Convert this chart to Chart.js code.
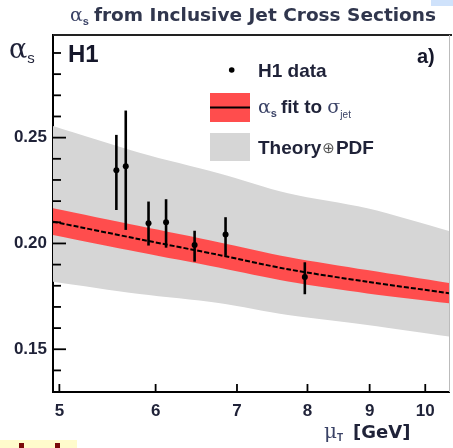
<!DOCTYPE html>
<html>
<head>
<meta charset="utf-8">
<script src="https://cdn.jsdelivr.net/npm/chart.js@4.4.1/dist/chart.umd.min.js"></script>
<style>
  html, body { margin: 0; padding: 0; background: #fff; }
</style>
</head>
<body>
<canvas id="grafico" width="453" height="448"></canvas>
<script>
// puntos H1 (mu_T en GeV, alpha_s con errores)
const muDatos = [5.57, 5.67, 5.92, 6.12, 6.46, 6.85, 7.96]
const alphaDatos = [0.2346, 0.2365, 0.2095, 0.2100, 0.1993, 0.2042, 0.1842]
const alphaArriba = [0.2513, 0.2628, 0.2198, 0.2209, 0.2060, 0.2124, 0.1911]
const alphaAbajo = [0.2158, 0.2064, 0.1990, 0.1980, 0.1914, 0.1942, 0.1760]

// ajuste de alpha_s y bandas
const muBanda = [4.94, 5.82, 6.76, 7.71, 8.96, 10.46]
const ajusteCentro = [0.2103, 0.2020, 0.1946, 0.1878, 0.1819, 0.1765]
const ajusteArriba = [0.2166, 0.2082, 0.2006, 0.1936, 0.1874, 0.1813]
const ajusteAbajo = [0.2040, 0.1958, 0.1886, 0.1820, 0.1764, 0.1717]
const teoriaArriba = [0.2555, 0.2429, 0.2332, 0.2237, 0.2166, 0.2059]
const teoriaAbajo = [0.1819, 0.1761, 0.1719, 0.1662, 0.1615, 0.1560]

// ticks
const ticksX = [5, 6, 7, 8, 9, 10]
const ticksY = [0.14, 0.15, 0.16, 0.17, 0.18, 0.19, 0.20, 0.21, 0.22, 0.23, 0.24, 0.25, 0.26, 0.27, 0.28, 0.29]
const ticksYMayores = [0.15, 0.20, 0.25]

const colorTexto = "#1f2238"
const fuente = "'Liberation Sans', Arial, 'DejaVu Sans', sans-serif"
const fuenteAncha = "'DejaVu Sans', 'Liberation Sans', sans-serif"

const aPuntos = (xs, ys) => xs.map((m, i) => ({ x: m, y: ys[i] }))
const esMayor = (v) => ticksYMayores.some((m) => Math.abs(m - v) < 1e-6)

// dibuja trozos de texto seguidos (para subindices)
const escribir = (ctx, trozos, x, y) => {
    let px = x
    trozos.forEach((t) => {
        ctx.font = t.f
        ctx.fillStyle = t.c || colorTexto
        ctx.fillText(t.t, px, y + (t.dy || 0))
        px += ctx.measureText(t.t).width + (t.sp || 0)
    })
}

const barrasError = {
    id: "barrasError",
    afterDatasetsDraw(chart) {
        const ctx = chart.ctx
        const sx = chart.scales.x
        const sy = chart.scales.y
        ctx.save()
        ctx.strokeStyle = "#000"
        ctx.lineWidth = 2.6
        muDatos.forEach((m, i) => {
            const px = sx.getPixelForValue(m)
            ctx.beginPath()
            ctx.moveTo(px, sy.getPixelForValue(alphaArriba[i]))
            ctx.lineTo(px, sy.getPixelForValue(alphaAbajo[i]))
            ctx.stroke()
        })
        ctx.restore()
    }
}

const decoracion = {
    id: "decoracion",
    afterDraw(chart) {
        const ctx = chart.ctx
        const area = chart.chartArea
        const sx = chart.scales.x
        const sy = chart.scales.y
        ctx.save()

        // marco arriba y derecha
        ctx.strokeStyle = "#222"
        ctx.lineWidth = 2
        ctx.beginPath()
        ctx.moveTo(area.left, area.top)
        ctx.lineTo(area.right + 3, area.top)
        ctx.stroke()
        ctx.strokeStyle = "#bbb"
        ctx.lineWidth = 1
        ctx.beginPath()
        ctx.moveTo(area.right + 0.5, area.top)
        ctx.lineTo(area.right + 0.5, area.bottom)
        ctx.stroke()

        // ticks hacia dentro
        ctx.strokeStyle = "#000"
        ctx.lineWidth = 1.8
        sy.ticks.forEach((t) => {
            const py = sy.getPixelForValue(t.value)
            ctx.beginPath()
            ctx.moveTo(area.left, py)
            ctx.lineTo(area.left + (esMayor(t.value) ? 13 : 8), py)
            ctx.stroke()
        })
        sx.ticks.forEach((t) => {
            const px = sx.getPixelForValue(t.value)
            ctx.beginPath()
            ctx.moveTo(px, area.bottom)
            ctx.lineTo(px, area.bottom - 8)
            ctx.stroke()
        })

        ctx.textBaseline = "alphabetic"
        ctx.textAlign = "left"

        // titulo
        escribir(ctx, [
            { t: "\u03b1", f: "19px 'DejaVu Serif', serif", c: "#3a4266" },
            { t: "s", f: "bold 11px " + fuente, dy: 4, c: "#3a4266", sp: 5 },
            { t: "from Inclusive Jet Cross Sections", f: "bold 18.5px " + fuenteAncha, c: "#30364d" }
        ], 70, 21)

        // etiqueta eje y
        escribir(ctx, [
            { t: "\u03b1", f: "27px 'DejaVu Serif', serif" },
            { t: "s", f: "15px " + fuente, dy: 5 }
        ], 9, 58)

        // H1 y a)
        escribir(ctx, [{ t: "H1", f: "bold 24px " + fuente, c: "#15172a" }], 68, 62)
        escribir(ctx, [{ t: "a)", f: "bold 20px " + fuente, c: "#15172a" }], 417, 63)

        // leyenda
        ctx.fillStyle = "#000"
        ctx.beginPath()
        ctx.arc(231.7, 70, 2.8, 0, Math.PI * 2)
        ctx.fill()
        escribir(ctx, [{ t: "H1 data", f: "bold 19px " + fuente }], 258, 77)

        ctx.fillStyle = "#ff4d4d"
        ctx.fillRect(210, 93, 40, 29)
        ctx.strokeStyle = "#000"
        ctx.lineWidth = 2
        ctx.beginPath()
        ctx.moveTo(210, 107.5)
        ctx.lineTo(250, 107.5)
        ctx.stroke()
        escribir(ctx, [
            { t: "\u03b1", f: "19px 'DejaVu Serif', serif", c: "#3a4266" },
            { t: "s", f: "bold 11px " + fuente, dy: 4, c: "#3a4266", sp: 4 },
            { t: "fit to ", f: "bold 19px " + fuente },
            { t: "\u03c3", f: "19px 'DejaVu Serif', serif", c: "#3a4266" },
            { t: "jet", f: "10px " + fuente, dy: 5, c: "#3a4266" }
        ], 258, 113)

        ctx.fillStyle = "#d6d6d6"
        ctx.fillRect(210, 133, 40, 28)
        escribir(ctx, [
            { t: "Theory", f: "bold 19px " + fuente, sp: 1 },
            { t: "\u2295", f: "15px 'DejaVu Sans', sans-serif", c: "#555", dy: -1, sp: 1 },
            { t: "PDF", f: "bold 19px " + fuente }
        ], 258, 154)

        // titulo eje x
        escribir(ctx, [
            { t: "\u03bc", f: "20px 'DejaVu Serif', serif", c: "#3a4266" },
            { t: "T", f: "bold 10px " + fuente, dy: 3, c: "#3a4266", sp: 10 },
            { t: "[GeV]", f: "bold 18px " + fuenteAncha }
        ], 324, 438)

        // restos de la figura vecina
        ctx.fillStyle = "#fffbcc"
        ctx.fillRect(0, 440, 77, 8)
        ctx.fillStyle = "#7a0a0a"
        ctx.fillRect(19, 443, 5, 5)
        ctx.fillRect(55, 443, 5, 5)
        ctx.fillStyle = "#cfe2fb"
        ctx.fillRect(431, 0, 22, 6)

        ctx.restore()
    }
}

const grafico = new Chart(document.getElementById("grafico"), {
    type: "line",
    data: {
        datasets: [
            {
                label: "H1 data",
                data: aPuntos(muDatos, alphaDatos),
                showLine: false,
                pointRadius: 3,
                pointBackgroundColor: "#000",
                pointBorderWidth: 0,
                order: 0
            },
            {
                label: "ajuste",
                data: aPuntos(muBanda, ajusteCentro),
                borderColor: "#000",
                borderWidth: 2,
                borderDash: [5, 2],
                pointRadius: 0,
                tension: 0.3,
                fill: false,
                order: 1
            },
            {
                label: "ajusteArriba",
                data: aPuntos(muBanda, ajusteArriba),
                borderColor: "transparent",
                borderWidth: 0,
                pointRadius: 0,
                tension: 0.3,
                backgroundColor: "#ff4d4d",
                fill: "+1",
                order: 2
            },
            {
                label: "ajusteAbajo",
                data: aPuntos(muBanda, ajusteAbajo),
                borderColor: "transparent",
                borderWidth: 0,
                pointRadius: 0,
                tension: 0.3,
                fill: false,
                order: 2
            },
            {
                label: "teoriaArriba",
                data: aPuntos(muBanda, teoriaArriba),
                borderColor: "transparent",
                borderWidth: 0,
                pointRadius: 0,
                tension: 0.3,
                backgroundColor: "#d6d6d6",
                fill: "+1",
                order: 3
            },
            {
                label: "teoriaAbajo",
                data: aPuntos(muBanda, teoriaAbajo),
                borderColor: "transparent",
                borderWidth: 0,
                pointRadius: 0,
                tension: 0.3,
                fill: false,
                order: 3
            }
        ]
    },
    options: {
        responsive: false,
        animation: false,
        layout: { padding: { top: 35, right: 3, left: 0, bottom: 0 } },
        plugins: {
            legend: { display: false },
            tooltip: { enabled: false },
            title: { display: false }
        },
        scales: {
            x: {
                type: "logarithmic",
                bounds: "data",
                min: 4.94,
                max: 10.46,
                afterBuildTicks: (s) => { s.ticks = ticksX.map((v) => ({ value: v })) },
                afterFit: (s) => { s.height = 56 },
                grid: { display: false, drawTicks: false },
                border: { display: true, color: "#000", width: 2 },
                ticks: {
                    autoSkip: false,
                    maxRotation: 0,
                    padding: 9,
                    color: colorTexto,
                    font: { family: fuente, size: 17, weight: "bold" },
                    callback: (v) => String(v)
                }
            },
            y: {
                type: "linear",
                bounds: "data",
                min: 0.1298,
                max: 0.2985,
                afterBuildTicks: (s) => { s.ticks = ticksY.map((v) => ({ value: v })) },
                afterFit: (s) => { s.width = 53 },
                grid: { display: false, drawTicks: false },
                border: { display: true, color: "#000", width: 2 },
                ticks: {
                    autoSkip: false,
                    padding: 6,
                    color: colorTexto,
                    font: { family: fuente, size: 17, weight: "bold" },
                    callback: (v) => esMayor(v) ? v.toFixed(2) : ""
                }
            }
        }
    },
    plugins: [barrasError, decoracion]
})
</script>
</body>
</html>
